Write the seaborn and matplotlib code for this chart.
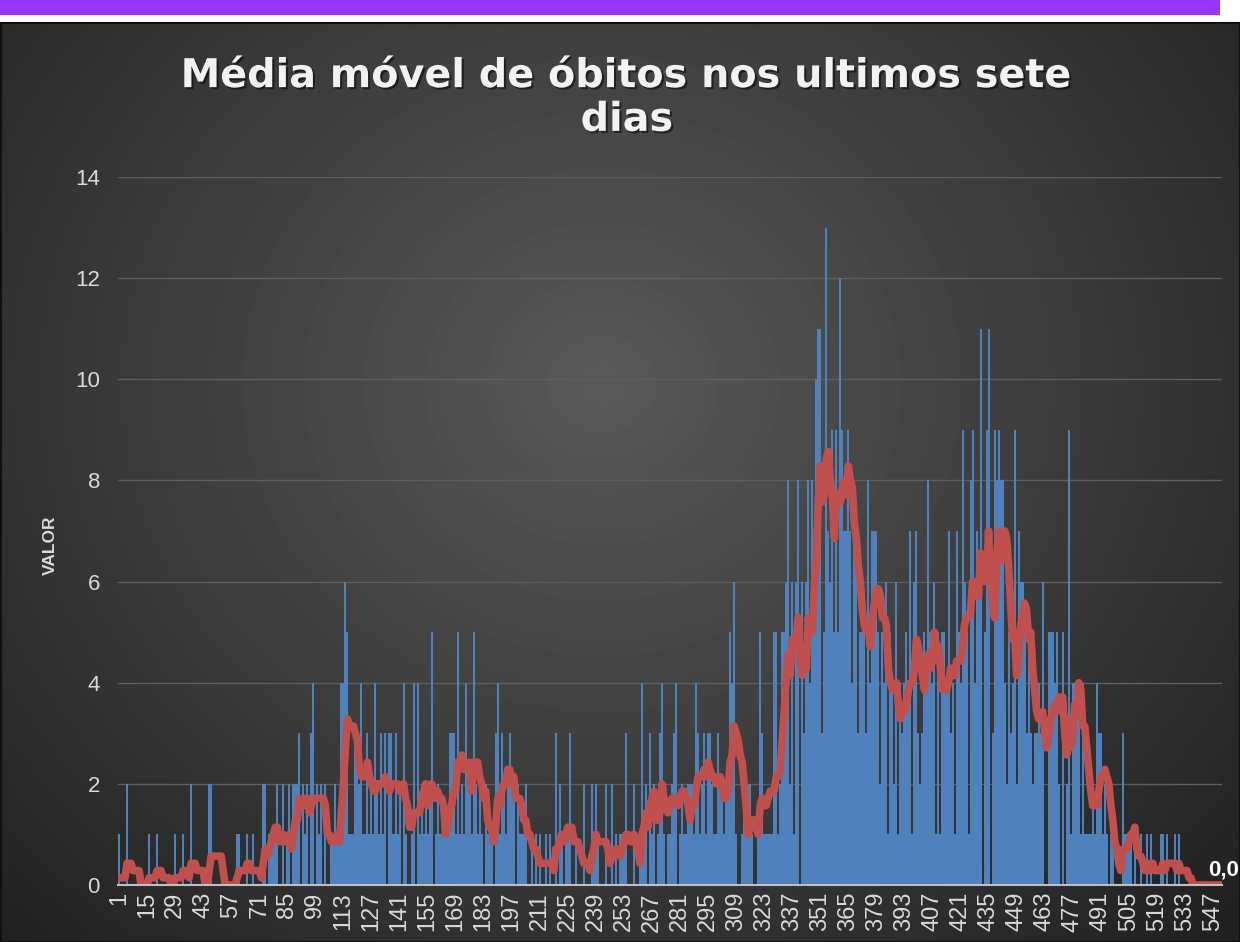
import numpy as np
import pandas as pd
import matplotlib
matplotlib.use("Agg")
import matplotlib.pyplot as plt
import matplotlib.patheffects as pe
from matplotlib.patches import Rectangle
import seaborn as sns

# Daily deaths, day 1 .. 551 (rows of 14 days)
obitos_d001_d042 = [1, 0, 0, 0, 2, 0, 0, 0, 0, 0, 0, 0, 0, 0,
                    0, 1, 0, 0, 0, 1, 0, 0, 0, 0, 0, 0, 0, 0,
                    1, 0, 0, 0, 1, 0, 0, 0, 2, 0, 0, 0, 0, 0]
obitos_d043_d084 = [0, 0, 0, 2, 2, 0, 0, 0, 0, 0, 0, 0, 0, 0,
                    0, 0, 0, 1, 1, 0, 0, 0, 1, 0, 0, 1, 0, 0,
                    0, 0, 2, 2, 0, 1, 1, 1, 1, 2, 0, 0, 2, 0]
obitos_d085_d126 = [1, 2, 0, 2, 2, 2, 3, 0, 2, 1, 2, 0, 3, 4,
                    0, 2, 1, 2, 0, 2, 0, 0, 1, 1, 2, 1, 1, 4,
                    4, 6, 5, 1, 1, 1, 3, 3, 2, 4, 1, 1, 3, 1]
obitos_d127_d168 = [2, 1, 4, 2, 1, 3, 1, 3, 0, 3, 3, 1, 3, 1,
                    2, 0, 4, 1, 0, 0, 1, 4, 0, 4, 1, 2, 1, 2,
                    1, 2, 5, 0, 1, 2, 1, 1, 1, 1, 1, 3, 3, 3]
obitos_d169_d210 = [1, 5, 1, 2, 1, 4, 2, 2, 1, 5, 2, 1, 2, 1,
                    0, 2, 1, 1, 1, 0, 3, 4, 1, 3, 2, 1, 2, 3,
                    2, 2, 0, 2, 1, 1, 1, 2, 0, 0, 1, 0, 1, 0]
obitos_d211_d252 = [1, 0, 0, 1, 0, 1, 0, 0, 3, 0, 2, 1, 0, 1,
                    1, 3, 0, 0, 1, 0, 0, 0, 2, 0, 0, 0, 2, 1,
                    2, 1, 0, 0, 0, 2, 0, 0, 2, 0, 1, 0, 1, 1]
obitos_d253_d294 = [1, 3, 0, 0, 0, 2, 0, 0, 1, 4, 1, 2, 0, 3,
                    1, 2, 0, 1, 3, 4, 1, 0, 1, 1, 2, 3, 4, 0,
                    1, 2, 1, 1, 2, 2, 2, 1, 4, 3, 1, 2, 3, 1]
obitos_d295_d336 = [3, 3, 2, 1, 1, 3, 2, 2, 1, 2, 2, 5, 4, 6,
                    1, 0, 0, 1, 2, 1, 2, 2, 1, 0, 0, 1, 5, 3,
                    1, 1, 1, 1, 1, 5, 5, 1, 2, 5, 5, 6, 8, 2]
obitos_d337_d378 = [6, 1, 6, 8, 0, 6, 3, 6, 8, 4, 8, 6, 10, 11,
                    11, 3, 5, 13, 7, 6, 9, 5, 9, 5, 12, 9, 7, 7,
                    9, 7, 4, 7, 7, 3, 5, 5, 5, 3, 8, 4, 7, 7]
obitos_d379_d420 = [7, 5, 2, 5, 4, 6, 1, 5, 4, 2, 6, 1, 4, 3,
                    4, 5, 4, 7, 1, 6, 7, 3, 2, 3, 5, 4, 8, 5,
                    4, 6, 1, 5, 1, 5, 5, 4, 7, 3, 4, 1, 7, 5]
obitos_d421_d462 = [4, 9, 6, 5, 1, 8, 9, 4, 7, 6, 11, 0, 5, 9,
                    11, 0, 3, 9, 8, 9, 8, 8, 4, 2, 5, 3, 4, 9,
                    2, 7, 6, 6, 5, 3, 5, 3, 2, 3, 3, 4, 3, 6]
obitos_d463_d504 = [0, 0, 5, 5, 5, 4, 5, 2, 0, 5, 0, 2, 9, 1,
                    4, 4, 4, 4, 1, 4, 1, 1, 1, 1, 2, 1, 4, 3,
                    3, 1, 2, 1, 0, 1, 1, 0, 0, 0, 0, 3, 1, 1]
obitos_d505_d551 = [1, 1, 0, 1, 0, 0, 1, 0, 0, 1, 0, 1, 0, 0,
                    0, 0, 1, 1, 0, 1, 0, 0, 0, 1, 0, 1, 0, 0,
                    0, 0, 0, 0, 0, 0, 0, 0, 0, 0, 0, 0, 0, 0,
                    0, 0, 0, 0, 0]

obitos = (obitos_d001_d042 + obitos_d043_d084 + obitos_d085_d126 + obitos_d127_d168
          + obitos_d169_d210 + obitos_d211_d252 + obitos_d253_d294 + obitos_d295_d336
          + obitos_d337_d378 + obitos_d379_d420 + obitos_d421_d462 + obitos_d463_d504
          + obitos_d505_d551)
dias = np.arange(1, len(obitos) + 1)

# 7-day moving average of the daily values
media_movel = pd.Series(obitos).rolling(7, min_periods=1).sum() / 7
df = pd.DataFrame({"dia": dias, "obitos": obitos, "media": media_movel})

tick_dias = list(range(1, 548, 14))

sns.set_style("dark")
plt.rcParams["font.family"] = ["Liberation Sans", "DejaVu Sans"]

W, H = 1240, 942
fig = plt.figure(figsize=(W / 100, H / 100), dpi=100, facecolor="white")

# dark radial gradient panel
bg = fig.add_axes([2 / W, 0, (W - 2) / W, (H - 24) / H])
yy, xx = np.mgrid[0:H - 24, 0:W - 2]
r = np.hypot(xx - 600, (yy - 360) * 1.1) / 820
shade = np.clip(0.35 - 0.21 * r, 0.13, 0.36)
bg.imshow(shade, cmap="gray", vmin=0, vmax=1, aspect="auto", interpolation="bilinear")
bg.axis("off")
fig.add_artist(Rectangle((1 / W, 0), (W - 1) / W, (H - 23) / H, transform=fig.transFigure,
                         fill=False, edgecolor="#111111", lw=1.5))
# purple strip on top
fig.add_artist(Rectangle((0, (H - 15) / H), 1220 / W, 15 / H, transform=fig.transFigure,
                         facecolor="#9933ff", edgecolor="none"))

ax = fig.add_axes([118 / W, 57 / H, 1104 / W, 708 / H])
ax.set_facecolor("none")

sns.barplot(data=df, x="dia", y="obitos", native_scale=True, width=1.0,
            color="#4f81bd", saturation=1, linewidth=0, errorbar=None, ax=ax)
sns.lineplot(data=df, x="dia", y="media", color="#c0504d", linewidth=5.5,
             solid_joinstyle="round", solid_capstyle="round", ax=ax)

ax.set_xlim(0.5, len(obitos) + 0.5)
ax.set_ylim(0, 14)
ax.set_yticks(range(0, 15, 2))
ax.set_xticks(tick_dias)
ax.set_xticklabels([str(t) for t in tick_dias], rotation=90)
ax.set_xlabel("")
ax.set_ylabel("")
ax.set_axisbelow(True)
ax.yaxis.grid(True, color="#5e5e5e", lw=1)
ax.xaxis.grid(False)
for s in ["top", "right", "left"]:
    ax.spines[s].set_visible(False)
ax.spines["bottom"].set_color("#bfbfbf")
ax.spines["bottom"].set_linewidth(1.5)
ax.tick_params(axis="y", colors="#d9d9d9", labelsize=16, length=0, pad=13)
ax.tick_params(axis="x", colors="#d9d9d9", labelsize=17, length=0, pad=5)

# label at the end of the moving average line
ultimo = df["media"].iloc[-1]
ax.annotate(f"{ultimo:.1f}".replace(".", ","), xy=(df["dia"].iloc[-1], ultimo),
            xytext=(-13, 15), textcoords="offset pixels", ha="left", va="center",
            fontsize=16, fontweight="bold", color="white", annotation_clip=False)

sombra = [pe.withSimplePatchShadow(offset=(1.5, -1.5), shadow_rgbFace="black", alpha=0.5)]
fig.text(627 / W, 1 - 98 / H, "Média móvel de óbitos nos ultimos sete\ndias",
         ha="center", va="center", fontsize=28.6, fontweight="bold", color="#f2f2f2",
         family="DejaVu Sans", linespacing=1.12, path_effects=sombra)
fig.text(50 / W, 1 - 545 / H, "VALOR", rotation=90, ha="center", va="center",
         fontsize=12.5, fontweight="bold", color="#d9d9d9")

fig.savefig("out.png", dpi=100, facecolor=fig.get_facecolor())
